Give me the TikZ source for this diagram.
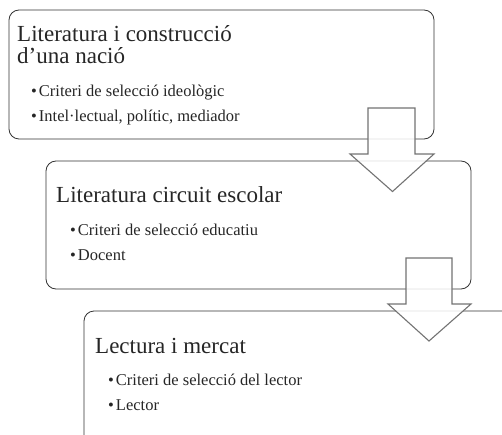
\documentclass[tikz,border=0pt]{standalone}
\usepackage{fontspec}
\setmainfont{Liberation Serif}
\begin{document}
\begin{tikzpicture}[x=1pt,y=-1pt,
  boxst/.style={draw=black!80, line width=0.8pt, rounded corners=10pt, fill=white},
  arrowst/.style={draw=black!55, line width=1.1pt, fill=white, fill opacity=0.85},
  titlest/.style={anchor=base west, inner sep=0pt, font=\fontsize{23}{26}\selectfont, text=black!85},
  itemst/.style={anchor=base west, inner sep=0pt, font=\fontsize{16.5}{19}\selectfont, text=black!85}]
\useasboundingbox (0,0) rectangle (502,435);
\clip (0,0) rectangle (502,435);
% boxes
\draw[boxst] (9,10) rectangle (434,139);
\node (b1) at (221.5,74.5) {};
\draw[boxst] (46,161) rectangle (471,289);
\node (b2) at (258.5,225) {};
\draw[boxst] (84,311) rectangle (520,460);
\node (b3) at (300,385) {};
% texts box 1
\node[titlest] (t1a) at (17,42) {Literatura i construcció};
\node[titlest] (t1b) at (17,64) {d’una nació};
\node[itemst] (i1a) at (31,97) {•\hspace{2pt}Criteri de selecció ideològic};
\node[itemst] (i1b) at (31,122) {•\hspace{2pt}Intel·lectual, polític, mediador};
% texts box 2
\node[titlest] (t2) at (56,203) {Literatura circuit escolar};
\node[itemst] (i2a) at (70,235) {•\hspace{2pt}Criteri de selecció educatiu};
\node[itemst] (i2b) at (70,260) {•\hspace{2pt}Docent};
% texts box 3
\node[titlest] (t3) at (95,353) {Lectura i mercat};
\node[itemst] (i3a) at (108,385) {•\hspace{2pt}Criteri de selecció del lector};
\node[itemst] (i3b) at (108,410) {•\hspace{2pt}Lector};
% arrows
\draw[arrowst] (368,108) -- (415,108) -- (415,154) -- (434,154) -- (392.5,191.5) -- (350,154) -- (368,154) -- cycle;
\draw[arrowst] (406,258) -- (452,258) -- (452,304) -- (471,304) -- (429,341) -- (388,304) -- (406,304) -- cycle;
\end{tikzpicture}
\end{document}
